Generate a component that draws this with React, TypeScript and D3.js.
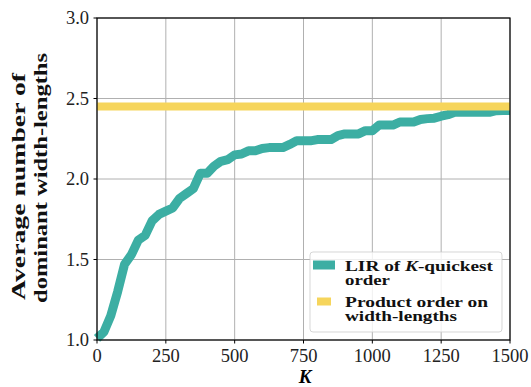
import React from 'react';
import * as d3 from 'd3';

// K values (step 25) and the average number of dominant width-lengths
const kValues = d3.range(0, 1501, 25);
const lirValues = [
  1.01, 1.05, 1.15, 1.3, 1.47, 1.53, 1.62, 1.65, 1.74, 1.78,
  1.8, 1.82, 1.88, 1.91, 1.94, 2.035, 2.035, 2.08, 2.11, 2.12,
  2.15, 2.155, 2.175, 2.175, 2.19, 2.195, 2.195, 2.195, 2.215, 2.237,
  2.237, 2.237, 2.245, 2.245, 2.245, 2.27, 2.28, 2.28, 2.28, 2.3,
  2.3, 2.335, 2.335, 2.335, 2.354, 2.354, 2.354, 2.37, 2.375, 2.378,
  2.39, 2.4, 2.414, 2.414, 2.414, 2.414, 2.414, 2.414, 2.424, 2.426,
  2.426,
];
const productOrderValue = 2.45;

const xTicks = [0, 250, 500, 750, 1000, 1250, 1500];
const yTicks = [1.0, 1.5, 2.0, 2.5, 3.0];

const TEAL = '#3CAEA3';
const YELLOW = '#F6D55C';
const SERIF = "'Liberation Serif', serif";

const width = 531;
const height = 387;
const plot = { left: 97, right: 510, top: 18, bottom: 340 };

const App = () => {
  const x = d3.scaleLinear().domain([0, 1500]).range([plot.left, plot.right]);
  const y = d3.scaleLinear().domain([1, 3]).range([plot.bottom, plot.top]);

  const line = d3.line<number>()
    .x((_, i) => x(kValues[i]))
    .y(d => y(d));

  return (
    <svg width={width} height={height} style={{ position: 'absolute', left: 0, top: 0, background: '#fff' }}>
      {/* grid */}
      <g stroke="#b0b0b0" strokeWidth={1}>
        {xTicks.map(t => (
          <line key={`gx${t}`} x1={x(t)} x2={x(t)} y1={plot.top} y2={plot.bottom} />
        ))}
        {yTicks.map(t => (
          <line key={`gy${t}`} x1={plot.left} x2={plot.right} y1={y(t)} y2={y(t)} />
        ))}
      </g>

      {/* series */}
      <path d={line(lirValues) ?? ''} fill="none" stroke={TEAL} strokeWidth={9} strokeLinejoin="round" />
      <line x1={x(0)} x2={x(1500)} y1={y(productOrderValue)} y2={y(productOrderValue)} stroke={YELLOW} strokeWidth={8} />

      {/* frame */}
      <rect x={plot.left} y={plot.top} width={plot.right - plot.left} height={plot.bottom - plot.top}
        fill="none" stroke="#000" strokeWidth={1.2} />

      {/* x axis */}
      <g fontFamily={SERIF} fontSize={18.5} textAnchor="middle" fill="#222">
        {xTicks.map(t => (
          <g key={`tx${t}`}>
            <line x1={x(t)} x2={x(t)} y1={plot.bottom} y2={plot.bottom + 3.5} stroke="#000" />
            <text x={x(t)} y={362}>{t}</text>
          </g>
        ))}
      </g>
      {/* y axis */}
      <g fontFamily={SERIF} fontSize={18.5} textAnchor="end" fill="#222">
        {yTicks.map(t => (
          <g key={`ty${t}`}>
            <line x1={plot.left - 3.5} x2={plot.left} y1={y(t)} y2={y(t)} stroke="#000" />
            <text x={89} y={y(t)} dy="0.35em">{t.toFixed(1)}</text>
          </g>
        ))}
      </g>

      {/* axis labels */}
      <text x={305} y={383} textAnchor="middle" fontFamily={SERIF} fontWeight="bold" fontStyle="italic" fontSize={19}>K</text>
      <g fontFamily={SERIF} fontWeight="bold" fontSize={19} fill="#111">
        <text transform="translate(25,300) rotate(-90)" textLength={227} lengthAdjust="spacingAndGlyphs">Average number of</text>
        <text transform="translate(47,303) rotate(-90)" textLength={250} lengthAdjust="spacingAndGlyphs">dominant width-lengths</text>
      </g>

      {/* legend */}
      <g>
        <rect x={310} y={252} width={192} height={80} rx={3} fill="#fff" fillOpacity={0.8} stroke="#ccc" strokeOpacity={0.8} />
        <rect x={313} y={260.5} width={22} height={9} fill={TEAL} />
        <rect x={317} y={297.5} width={14} height={8} fill={YELLOW} />
        <g fontFamily={SERIF} fontWeight="bold" fontSize={15} fill="#111">
          <text x={345} y={270.5} textLength={148} lengthAdjust="spacingAndGlyphs">
            LIR of <tspan fontStyle="italic">K</tspan>-quickest
          </text>
          <text x={345} y={285} textLength={45} lengthAdjust="spacingAndGlyphs">order</text>
          <text x={345} y={306.5} textLength={143} lengthAdjust="spacingAndGlyphs">Product order on</text>
          <text x={345} y={320.5} textLength={112} lengthAdjust="spacingAndGlyphs">width-lengths</text>
        </g>
      </g>
    </svg>
  );
};

export default App;
